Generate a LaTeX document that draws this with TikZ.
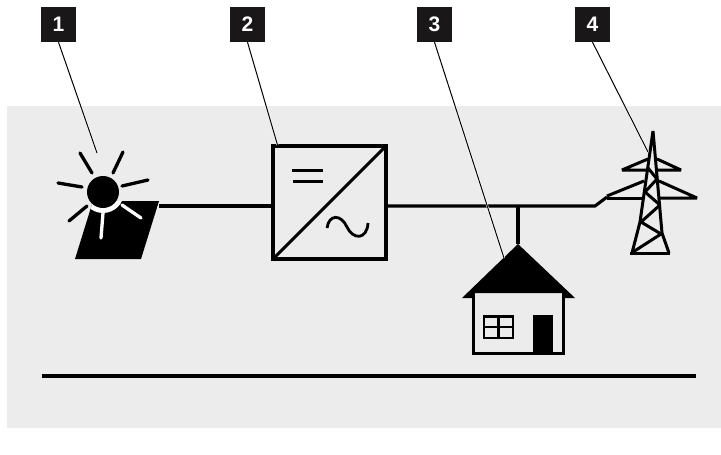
\documentclass[tikz,border=0pt]{standalone}
\usepackage{fontspec}
\setmainfont{Liberation Sans}
\definecolor{bggray}{HTML}{ECECEC}
\definecolor{badgeblack}{HTML}{1A1718}
\tikzset{
    badge/.style={fill=badgeblack, text=white, minimum size=35pt, inner sep=0pt, font=\fontsize{21}{21}\selectfont\bfseries},
    wire/.style={line width=3.1pt},
    mast/.style={line width=3pt, line join=bevel},
    leader/.style={line width=1pt, preaction={draw=white, line width=2pt}},
    ray/.style={line width=3.3pt, line cap=round}
}
\begin{document}
\begin{tikzpicture}[x=1pt, y=-1pt]
    \useasboundingbox (0,0) rectangle (721,455);
    \fill[bggray] (7,106) rectangle (721,428);

    % Solar panel and sun
    \fill (93,201) -- (159,201) -- (141,259) -- (75,259) -- cycle;
    \begin{scope}
        \clip (93,201) -- (159,201) -- (141,259) -- (75,259) -- cycle;
        \fill[white] (103,192) circle (21);
    \end{scope}
    \fill (103,192) circle (16);
    \foreach \xa/\ya/\xb/\yb in {80/153/92/173, 123/152/113/173, 122/186/148/180, 82/187/58/183, 87/206/69/221} {
        \draw[ray] (\xa,\ya) -- (\xb,\yb); % Black rays
    }
    \foreach \xa/\ya/\xb/\yb in {103/213/101/238, 122/205/141/218} {
        \draw[ray, white] (\xa,\ya) -- (\xb,\yb); % White rays
    }
    \coordinate (pv) at (159,206);

    % Inverter
    \node[draw, line width=3.1pt, minimum size=113pt, inner sep=0pt, outer sep=0pt] (conv) at (329.5,202.5) {};
    \draw[wire] (conv.south west) -- (conv.north east);
    \draw[line width=3pt] (292,170) -- (323,170);
    \draw[line width=3pt] (293,181.5) -- (323,181.5);
    \draw[line width=2.8pt] (327,228) .. controls (329,214) and (341,214) .. (347,227)
        .. controls (353,240) and (367,240) .. (368,223);

    % House
    \coordinate (roof) at (518,244);
    \fill (roof) -- (575,298) -- (565,298) -- (565,293) -- (472,293) -- (472,298) -- (462,298) -- cycle;
    \draw[wire] (473.5,293) -- (473.5,353.5) -- (563.5,353.5) -- (563.5,293);
    \draw[line width=2.6pt] (484,316.5) rectangle (513,338);
    \draw[line width=2.6pt] (498.5,316) -- (498.5,338);
    \draw[line width=2.6pt] (484,327) -- (513,327);
    \fill (533,315) rectangle (553,353);

    % Pylon
    \coordinate (arm) at (607,197);
    \draw[mast] (640,222) -- (653,131) -- (662,233) -- (669,253);
    \draw[mast] (640,222) -- (632,253);
    \draw[mast] (630,253) -- (670,253);
    \draw[mast] (648,168) -- (657,179) -- (645,192) -- (660,205) -- (641,222) -- (661,234) -- (633,252);
    \draw[mast] (607,198) -- (643,198);
    \draw[mast] (660,198) -- (697,198) -- (659,181);
    \draw[mast] (607,196) -- (644,181);
    \draw[mast] (648,159) -- (622,170) -- (647,170);
    \draw[mast] (657,159) -- (681,170) -- (657,170);

    % Wires
    \coordinate (tap) at (518,206);
    \coordinate (kink) at (595,206);
    \draw[wire] (pv) -- (conv.west |- pv);
    \draw[wire] (conv.east |- pv) -- (kink) -- (arm);
    \draw[wire] (tap) -- (roof);

    % Ground line
    \coordinate (gleft) at (42,376);
    \coordinate (gright) at (696,376);
    \draw[wire] (gleft) -- (gright);

    % Badges
    \node[badge] (b1) at (58.5,24.5) {1};
    \node[badge] (b2) at (247.5,24.5) {2};
    \node[badge] (b3) at (434.5,24.5) {3};
    \node[badge] (b4) at (592.5,24.5) {4};
    \coordinate (t1) at (97,153);
    \coordinate (t2) at (277.5,145);
    \coordinate (t3) at (504,258);
    \coordinate (t4) at (648,152);
    \foreach \i in {1,2,3,4} {
        \draw[leader] (b\i.south) -- (t\i);
    }
\end{tikzpicture}
\end{document}
